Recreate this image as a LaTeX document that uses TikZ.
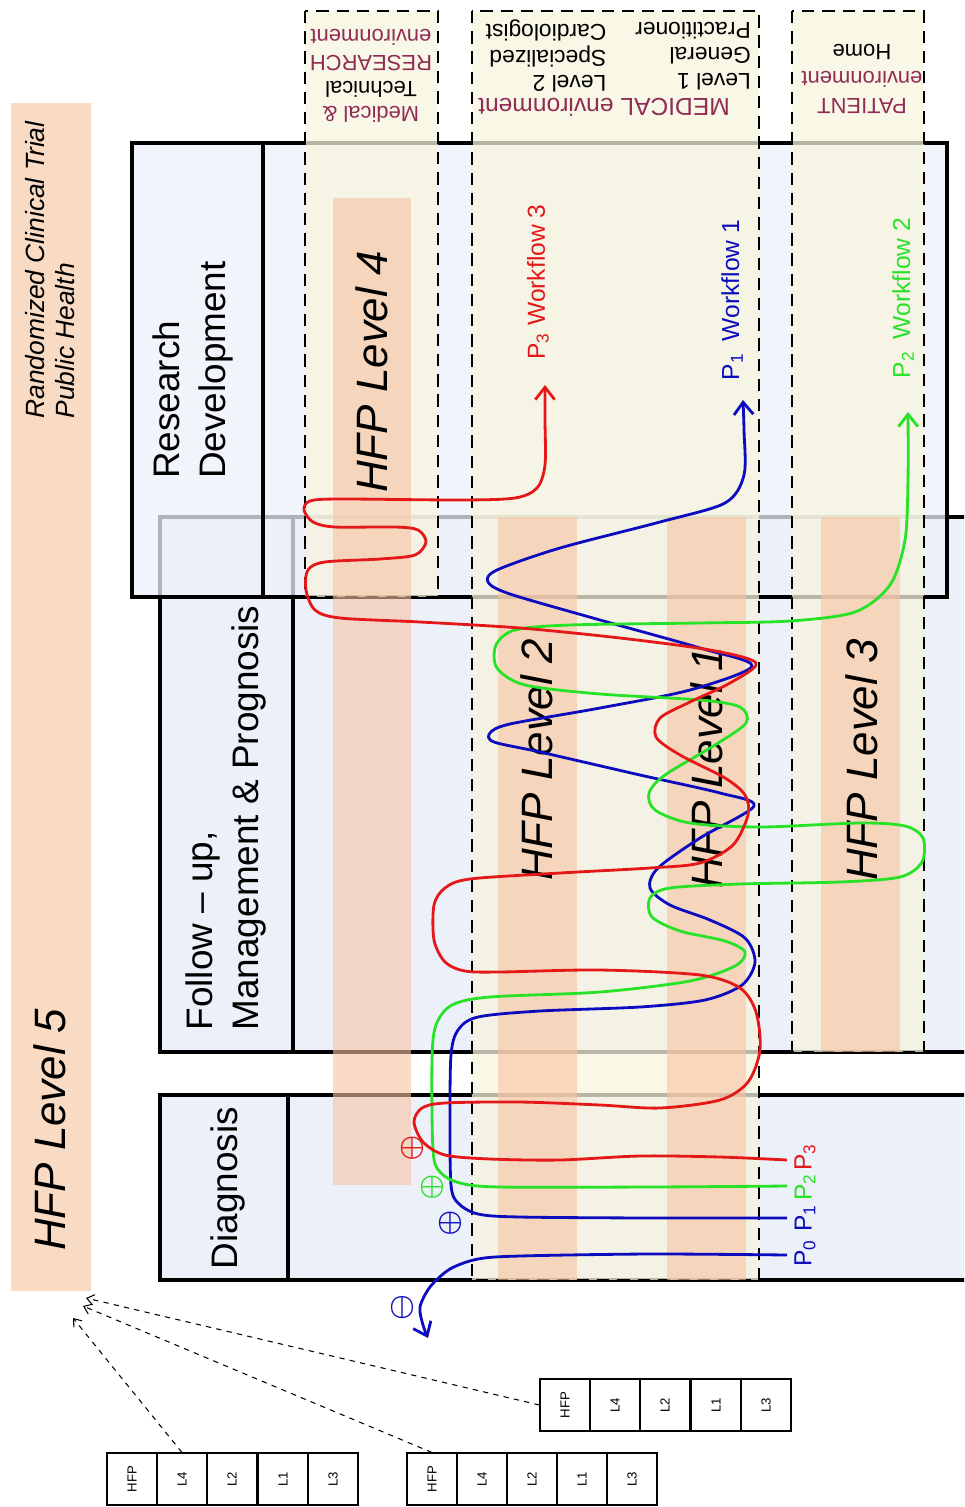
\documentclass[tikz,border=0pt]{standalone}
\usepackage{fontspec}
\setmainfont{Liberation Sans}
\usepackage{xcolor,graphicx}
\usetikzlibrary{arrows.meta}

\definecolor{boxblue}{RGB}{236,240,249}
\definecolor{cream}{RGB}{247,244,222}
\definecolor{peach}{RGB}{247,195,161}
\definecolor{peachbar}{RGB}{249,218,195}
\definecolor{hdrred}{RGB}{145,45,85}
\definecolor{flowred}{RGB}{228,24,24}
\definecolor{flowblue}{RGB}{12,12,190}
\definecolor{flowgreen}{RGB}{40,226,40}

\newcommand{\flowsign}[1]{\scalebox{1.65}{\boldmath$#1$}}

\begin{document}
\begin{tikzpicture}[x=0.02cm, y=-0.02cm,
  phase/.style={draw, line width=2pt, fill=boxblue},
  envcol/.style={draw, line width=1.1pt, dash pattern=on 7pt off 4.5pt, fill=cream, fill opacity=0.75},
  band/.style={fill=peach, fill opacity=0.6},
  lvl/.style={rotate=90, font=\fontsize{25}{30}\selectfont\itshape},
  phasetext/.style={rotate=90, align=left, font=\fontsize{21}{26}\selectfont},
  hdr/.style={rotate=180, align=center, font=\fontsize{12.5}{14.7}\selectfont},
  flow/.style={line width=1.6pt, line join=round},
  wfarrow/.style={-{Straight Barb[length=7pt,width=11pt]}},
  wf/.style={rotate=90, font=\fontsize{14}{16}\selectfont},
  signnode/.style={inner sep=0pt},
  cell/.style={draw, line width=0.6pt, minimum width=1cm, minimum height=1.04cm, inner sep=0pt, font=\fontsize{7.5}{9}\selectfont},
  link/.style={dashed, line width=0.6pt, -{Straight Barb[length=4pt,width=6pt]}}]

  \useasboundingbox (0,0) rectangle (964,1507);
  \clip (0,0) rectangle (964,1507);

  \fill[peachbar] (11,103) rectangle (91,1291);

  % phases
  \draw[phase] (160,517) rectangle (990,1052);
  \draw[line width=2pt] (293,517) -- (293,1052);
  \draw[phase] (160,1095) rectangle (990,1280);
  \draw[line width=2pt] (288,1095) -- (288,1280);
  \draw[phase, fill opacity=0.75] (132,143) rectangle (947,597);
  \draw[line width=2pt] (263,143) -- (263,597);

  % environments
  \draw[envcol] (305,11) rectangle (438,597);
  \draw[envcol] (472,11) rectangle (759,1280);
  \draw[envcol] (792,11) rectangle (924,1052);

  \fill[band] (333,198) rectangle (411,1185);
  \fill[band] (498,517) rectangle (577,1280);
  \fill[band] (667,517) rectangle (746,1280);
  \fill[band] (821,517) rectangle (900,1052);

  \node[hdr] (hres) at (371,76) {\textcolor{hdrred}{Medical \&}\\Technical\\\textcolor{hdrred}{RESEARCH}\\\textcolor{hdrred}{environment}};
  \node[hdr, text=hdrred, font=\fontsize{14}{16}\selectfont] (hmed) at (604,107) {MEDICAL environment};
  \node[hdr, align=left, font=\fontsize{13}{14.5}\selectfont] (hmedone) at (693,56) {Level 1\\General\\Practitioner};
  \node[hdr, align=left, font=\fontsize{13}{14.5}\selectfont] (hmedtwo) at (546,56) {Level 2\\Specialized\\Cardiologist};
  \node[hdr, font=\fontsize{12.5}{15.5}\selectfont] (hpat) at (862,79) {\textcolor{hdrred}{PATIENT}\\\textcolor{hdrred}{environment}\\Home};

  \node[rotate=90, align=left, font=\fontsize{15}{17}\selectfont\itshape] (rct) at (50,270) {Randomized Clinical Trial\\Public Health};
  \node[phasetext] (resdev) at (193,370) {Research\\Development};
  \node[phasetext] (follow) at (226,818) {Follow – up,\\Management \& Prognosis};
  \node[phasetext] (diag) at (228,1188) {Diagnosis};

  \node[lvl] (lvlfive) at (50,1130) {HFP Level 5};
  \node[lvl] (lvlfour) at (372,372) {HFP Level 4};
  \node[lvl] (lvltwo) at (537,760) {HFP Level 2};
  \node[lvl] (lvlone) at (707,768) {HFP Level 1};
  \node[lvl] (lvlthree) at (862,760) {HFP Level 3};

  \node[wf, text=flowred] (wfthree) at (538,282) {P\textsubscript{3} Workflow 3};
  \node[wf, text=flowblue] (wfone) at (732,300) {P\textsubscript{1}\enspace Workflow 1};
  \node[wf, text=flowgreen] (wftwo) at (903,298) {P\textsubscript{2}\enspace Workflow 2};

  \node[wf, text=flowblue] (pzero) at (805,1253) {P\textsubscript{0}};
  \node[wf, text=flowblue] (pone) at (805,1218) {P\textsubscript{1}};
  \node[wf, text=flowgreen] (ptwo) at (805,1187) {P\textsubscript{2}};
  \node[wf, text=flowred] (pthree) at (805,1157) {P\textsubscript{3}};

  % workflows
  \draw[flow, flowblue, wfarrow] plot[smooth, tension=0.5] coordinates {(787,1255) (650,1254) (520,1256) (478,1259) (450,1269) (430,1287) (420,1307) (423,1325) (428,1338)};
  \draw[flow, flowblue, wfarrow] plot[smooth, tension=0.5] coordinates {(787,1218) (650,1218) (520,1217) (478,1214) (458,1203) (451,1185) (450,1120) (451,1055) (458,1030) (478,1017) (540,1011) (640,1007) (705,1000) (742,985) (755,962) (745,938) (710,920) (670,905) (650,888) (658,868) (700,838) (754,806) (720,793) (640,775) (540,752) (494,742) (490,733) (510,724) (600,708) (690,690) (752,666) (700,648) (600,620) (510,594) (488,582) (497,570) (560,548) (660,522) (725,503) (744,475) (744,430) (743,400)};
  \draw[flow, flowgreen, wfarrow] plot[smooth, tension=0.5] coordinates {(787,1186) (650,1187) (500,1187) (460,1183) (440,1172) (433,1150) (432,1060) (436,1025) (452,1005) (490,997) (600,992) (690,981) (735,966) (745,952) (725,941) (680,931) (652,917) (650,898) (670,888) (740,884) (840,882) (900,877) (922,862) (923,838) (905,826) (860,823) (760,827) (690,823) (655,810) (649,793) (665,775) (715,745) (746,723) (740,707) (700,700) (600,694) (525,685) (497,668) (496,645) (515,630) (570,625) (700,623) (790,621) (855,612) (890,585) (905,540) (908,480) (908,412)};
  \draw[flow, flowred, wfarrow] plot[smooth, tension=0.5] coordinates {(787,1160) (720,1157) (640,1156) (560,1160) (490,1159) (445,1155) (423,1142) (414,1122) (422,1108) (445,1103) (520,1102) (600,1105) (660,1108) (720,1100) (748,1082) (760,1050) (756,1012) (740,988) (700,975) (600,970) (500,972) (465,971) (445,962) (434,940) (434,905) (445,888) (470,879) (560,873) (650,868) (700,863) (733,845) (748,815) (745,795) (725,778) (680,755) (656,737) (660,718) (690,702) (730,683) (756,663) (710,650) (620,638) (520,628) (420,622) (340,618) (315,610) (306,590) (308,570) (325,562) (380,559) (415,555) (426,542) (418,530) (395,527) (335,527) (313,522) (304,510) (310,501) (340,499) (460,500) (515,498) (537,488) (545,465) (545,420) (545,385)};

  \node[signnode, text=flowred] (plusred) at (412,1148) {\flowsign{\oplus}};
  \node[signnode, text=flowgreen] (plusgreen) at (432,1187) {\flowsign{\oplus}};
  \node[signnode, text=flowblue] (plusblue) at (450,1223) {\flowsign{\oplus}};
  \node[signnode, text=flowblue, rotate=90] (minusblue) at (402,1308) {\flowsign{\ominus}};

  % level tables
  \node[cell] (a1) at (132,1479) {\rotatebox{90}{HFP}};
  \node[cell] (a2) at (182,1479) {\rotatebox{90}{L4}};
  \node[cell] (a3) at (232,1479) {\rotatebox{90}{L2}};
  \node[cell] (a4) at (283,1479) {\rotatebox{90}{L1}};
  \node[cell] (a5) at (333,1479) {\rotatebox{90}{L3}};

  \node[cell] (b1) at (432,1479) {\rotatebox{90}{HFP}};
  \node[cell] (b2) at (482,1479) {\rotatebox{90}{L4}};
  \node[cell] (b3) at (532,1479) {\rotatebox{90}{L2}};
  \node[cell] (b4) at (582,1479) {\rotatebox{90}{L1}};
  \node[cell] (b5) at (632,1479) {\rotatebox{90}{L3}};

  \node[cell] (c1) at (565,1405) {\rotatebox{90}{HFP}};
  \node[cell] (c2) at (615,1405) {\rotatebox{90}{L4}};
  \node[cell] (c3) at (665,1405) {\rotatebox{90}{L2}};
  \node[cell] (c4) at (716,1405) {\rotatebox{90}{L1}};
  \node[cell] (c5) at (766,1405) {\rotatebox{90}{L3}};

  \coordinate (hita) at (73,1318);
  \coordinate (hitb) at (83,1306);
  \coordinate (hitc) at (86,1298);
  \draw[link] (a2.north) -- (hita);
  \draw[link] (b1.north) -- (hitb);
  \draw[link] (c1.west) -- (hitc);

\end{tikzpicture}
\end{document}
